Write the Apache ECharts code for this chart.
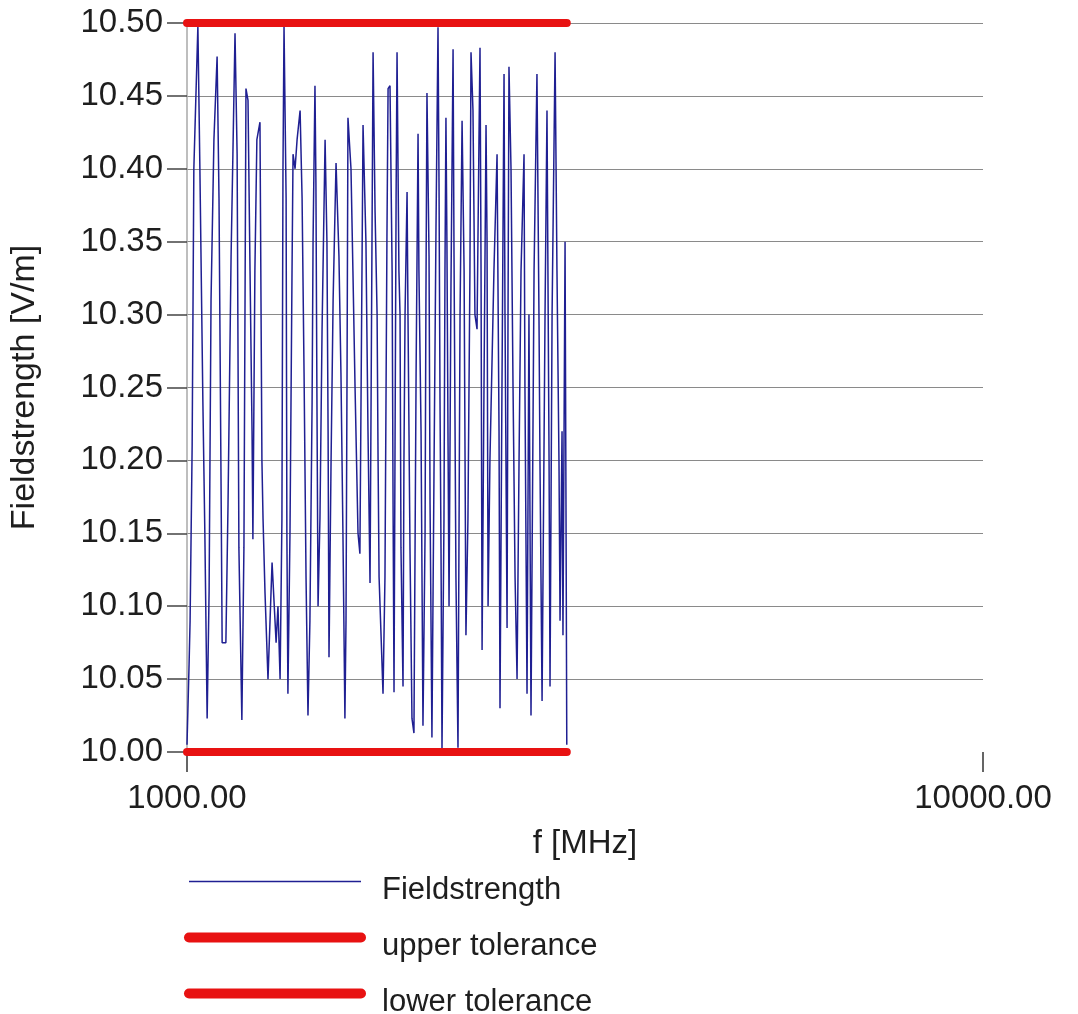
<!DOCTYPE html>
<html>
<head>
<meta charset="utf-8">
<script src="https://cdn.jsdelivr.net/npm/echarts@6/dist/echarts.min.js"></script>
<style>
  html, body { margin: 0; padding: 0; background: #ffffff; }
  #chart { width: 1078px; height: 1014px; }
</style>
</head>
<body>
<div id="chart"></div>
<script>
// Frequency points (MHz) of the measured field strength sweep
const freqMHz = [
  1000, 1006, 1009, 1015, 1020, 1032, 1038, 1047, 1053, 1060,
  1066, 1072, 1081, 1091, 1097, 1103, 1107, 1119, 1126, 1136,
  1142, 1149, 1156, 1162, 1172, 1179, 1186, 1193, 1200, 1207,
  1210, 1217, 1224, 1235, 1242, 1246, 1253, 1264, 1279, 1294,
  1301, 1309, 1316, 1320, 1324, 1332, 1335, 1339, 1347, 1355,
  1359, 1367, 1375, 1387, 1395, 1403, 1411, 1419, 1427, 1436,
  1440, 1448, 1452, 1456, 1461, 1469, 1478, 1491, 1499, 1504,
  1508, 1517, 1526, 1539, 1552, 1561, 1570, 1579, 1584, 1589,
  1593, 1607, 1616, 1626, 1640, 1649, 1664, 1678, 1688, 1698,
  1713, 1723, 1733, 1738, 1743, 1748, 1753, 1763, 1773, 1783,
  1789, 1799, 1810, 1815, 1820, 1825, 1831, 1836, 1846, 1852,
  1857, 1868, 1873, 1879, 1890, 1895, 1906, 1917, 1928, 1940,
  1951, 1956, 1968, 1979, 1991, 1996, 2002, 2014, 2020, 2031,
  2043, 2055, 2067, 2073, 2079, 2085, 2091, 2103, 2109, 2115,
  2121, 2128, 2134, 2146, 2159, 2165, 2177, 2190, 2203, 2216,
  2229, 2241, 2254, 2267, 2274, 2287, 2300, 2314, 2327, 2334,
  2341, 2348, 2361, 2375, 2382, 2389, 2402, 2430, 2452, 2466,
  2473, 2487, 2502, 2509, 2524, 2531, 2538, 2553, 2568, 2583,
  2598, 2613, 2628, 2651, 2658, 2674, 2689, 2705, 2729, 2752,
  2768, 2776, 2793, 2817, 2833, 2850, 2858, 2875, 2900, 2916,
  2933, 2942, 2959, 2967, 2985, 2993, 3000
];
// Field strength (V/m) at those frequencies
const fieldstrength = [
  10.005, 10.06, 10.09, 10.21, 10.40, 10.498, 10.40, 10.24, 10.15, 10.023,
  10.11, 10.31, 10.42, 10.477, 10.38, 10.20, 10.075, 10.075, 10.17, 10.34,
  10.41, 10.493, 10.41, 10.14, 10.022, 10.14, 10.455, 10.447, 10.33, 10.22,
  10.146, 10.33, 10.42, 10.432, 10.20, 10.16, 10.11, 10.05, 10.13, 10.075,
  10.10, 10.05, 10.16, 10.40, 10.498, 10.38, 10.15, 10.04, 10.15, 10.33,
  10.41, 10.40, 10.42, 10.44, 10.38, 10.26, 10.12, 10.025, 10.09, 10.24,
  10.35, 10.457, 10.39, 10.25, 10.10, 10.16, 10.29, 10.42, 10.35, 10.22,
  10.065, 10.20, 10.31, 10.404, 10.34, 10.26, 10.15, 10.023, 10.09, 10.27,
  10.435, 10.40, 10.33, 10.25, 10.15, 10.136, 10.43, 10.35, 10.22, 10.116,
  10.48, 10.37, 10.30, 10.20, 10.12, 10.10, 10.08, 10.04, 10.12, 10.35,
  10.455, 10.457, 10.33, 10.17, 10.041, 10.20, 10.38, 10.48, 10.33, 10.30,
  10.14, 10.045, 10.20, 10.30, 10.384, 10.30, 10.14, 10.023, 10.013, 10.26,
  10.424, 10.33, 10.22, 10.018, 10.15, 10.31, 10.452, 10.34, 10.17, 10.01,
  10.19, 10.36, 10.497, 10.39, 10.24, 10.14, 10.002, 10.16, 10.33, 10.435,
  10.35, 10.21, 10.10, 10.32, 10.482, 10.34, 10.12, 10.003, 10.30, 10.433,
  10.33, 10.08, 10.16, 10.33, 10.48, 10.44, 10.30, 10.29, 10.42, 10.483,
  10.33, 10.07, 10.25, 10.43, 10.35, 10.10, 10.20, 10.33, 10.41, 10.22,
  10.03, 10.25, 10.465, 10.30, 10.085, 10.30, 10.47, 10.40, 10.25, 10.12,
  10.05, 10.20, 10.33, 10.41, 10.25, 10.04, 10.30, 10.025, 10.33, 10.465,
  10.30, 10.20, 10.035, 10.30, 10.44, 10.20, 10.045, 10.30, 10.48, 10.33,
  10.20, 10.09, 10.22, 10.08, 10.35, 10.17, 10.005
];
// Tolerance band
const tolFreqMHz = [1000, 3000];
const upperTolerance = [10.5, 10.5];
const lowerTolerance = [10.0, 10.0];
// Legend / axis texts
const seriesNames = ['Fieldstrength', 'upper tolerance', 'lower tolerance'];
const xAxisTitle = 'f [MHz]';
const yAxisTitle = 'Fieldstrength [V/m]';

const zip = (xs, ys) => xs.map((x, i) => [x, ys[i]]);
const FONT = '"Liberation Sans", Arial, sans-serif';
const TXT = '#1e1e1e';
const BLUE = '#1f1f92';
const RED = '#e81212';

const chart = echarts.init(document.getElementById('chart'), null, { renderer: 'canvas' });
chart.setOption({
  backgroundColor: '#ffffff',
  animation: false,
  grid: { left: 187, right: 95, top: 23, bottom: 262, containLabel: false },
  legend: {
    orient: 'vertical',
    left: 184,
    top: 857,
    height: 220,
    padding: 0,
    itemWidth: 172,
    itemHeight: 10,
    itemGap: 7,
    selectedMode: false,
    formatter: name => '{t|' + name + '}',
    textStyle: {
      fontFamily: FONT, fontSize: 31, color: TXT,
      rich: {
        t: { fontFamily: FONT, fontSize: 31, color: TXT, lineHeight: 28, padding: [18, 0, 0, 16] }
      }
    },
    data: [
      { name: seriesNames[0], itemStyle: { opacity: 0 }, lineStyle: { color: BLUE, width: 1.5 } },
      { name: seriesNames[1], itemStyle: { opacity: 0 }, lineStyle: { color: RED, width: 10, cap: 'round' } },
      { name: seriesNames[2], itemStyle: { opacity: 0 }, lineStyle: { color: RED, width: 10, cap: 'round' } }
    ]
  },
  xAxis: {
    type: 'log',
    logBase: 10,
    min: 1000,
    max: 10000,
    name: xAxisTitle,
    nameLocation: 'middle',
    nameGap: 75,
    nameTextStyle: { fontFamily: FONT, fontSize: 33, color: TXT },
    axisLine: { show: false },
    axisTick: { show: true, length: 20, lineStyle: { color: '#333', width: 1.5 } },
    minorTick: { show: false },
    splitLine: { show: false },
    axisLabel: {
      fontFamily: FONT, fontSize: 33, color: TXT, margin: 30,
      showMinLabel: true, showMaxLabel: true,
      formatter: v => Number(v).toFixed(2)
    }
  },
  yAxis: {
    type: 'value',
    min: 10,
    max: 10.5,
    interval: 0.05,
    name: yAxisTitle,
    nameLocation: 'middle',
    nameRotate: 90,
    nameGap: 145,
    nameTextStyle: { fontFamily: FONT, fontSize: 34, color: TXT },
    axisLine: { show: true, lineStyle: { color: '#a8a8a8', width: 1.5 } },
    axisTick: { show: true, length: 20, lineStyle: { color: '#444', width: 1.5 } },
    axisLabel: {
      fontFamily: FONT, fontSize: 33, color: TXT, margin: 24,
      formatter: v => Number(v).toFixed(2)
    },
    splitLine: {
      show: true,
      lineStyle: {
        color: ['rgba(0,0,0,0)', '#8a8a8a', '#8a8a8a', '#8a8a8a', '#8a8a8a', '#8a8a8a',
                '#8a8a8a', '#8a8a8a', '#8a8a8a', '#8a8a8a', '#8a8a8a'],
        width: 1.2
      }
    }
  },
  series: [
    {
      name: seriesNames[0],
      type: 'line',
      data: zip(freqMHz, fieldstrength),
      symbol: 'none',
      showSymbol: false,
      clip: false,
      z: 3,
      itemStyle: { color: BLUE },
      lineStyle: { color: BLUE, width: 1.5 }
    },
    {
      name: seriesNames[1],
      type: 'line',
      data: zip(tolFreqMHz, upperTolerance),
      symbol: 'none',
      showSymbol: false,
      clip: false,
      z: 4,
      itemStyle: { color: RED },
      lineStyle: { color: RED, width: 8, cap: 'round' }
    },
    {
      name: seriesNames[2],
      type: 'line',
      data: zip(tolFreqMHz, lowerTolerance),
      symbol: 'none',
      showSymbol: false,
      clip: false,
      z: 4,
      itemStyle: { color: RED },
      lineStyle: { color: RED, width: 8, cap: 'round' }
    }
  ]
});
</script>
</body>
</html>
